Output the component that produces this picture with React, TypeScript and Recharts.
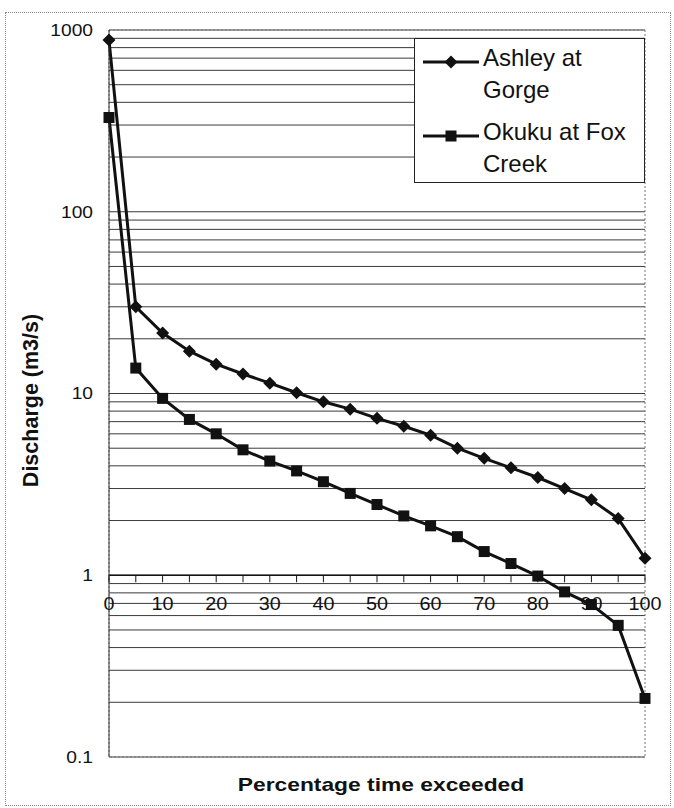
import React from 'react';
import {
  ComposedChart,
  Line,
  Scatter,
  XAxis,
  YAxis,
  CartesianGrid,
  Legend,
  ReferenceLine,
  ReferenceArea,
} from 'recharts';

// Flow duration data: percentage of time a discharge is exceeded
const percentExceeded = [0, 5, 10, 15, 20, 25, 30, 35, 40, 45, 50, 55, 60, 65, 70, 75, 80, 85, 90, 95, 100];
const ashleyAtGorge = [880, 30, 21.5, 17.1, 14.5, 12.8, 11.4, 10.1, 9.0, 8.2, 7.3, 6.6, 5.9, 5.0, 4.4, 3.9, 3.45, 3.0, 2.6, 2.05, 1.24];
const okukuAtFoxCreek = [330, 13.8, 9.4, 7.2, 6.0, 4.9, 4.25, 3.75, 3.27, 2.82, 2.45, 2.12, 1.87, 1.63, 1.35, 1.16, 0.99, 0.81, 0.69, 0.53, 0.21];

const seriesNames = { ashley: 'Ashley at Gorge', okuku: 'Okuku at Fox Creek' };

// Log gridlines (1..9 per decade) and the decades that carry labels
const gridValues = [
  0.1, 0.2, 0.3, 0.4, 0.5, 0.6, 0.7, 0.8, 0.9,
  1, 2, 3, 4, 5, 6, 7, 8, 9,
  10, 20, 30, 40, 50, 60, 70, 80, 90,
  100, 200, 300, 400, 500, 600, 700, 800, 900,
  1000,
];
const decadeLabels = [0.1, 1, 10, 100, 1000];

// Category axis crosses the value axis at a discharge of 1
const axisCrossing = 1;
const xLabelValues = [0, 10, 20, 30, 40, 50, 60, 70, 80, 90, 100];
const xTickMarkValues = [0, 5, 10, 15, 20, 25, 30, 35, 40, 45, 50, 55, 60, 65, 70, 75, 80, 85, 90, 95, 100];

const rows = percentExceeded.map((p, i) => ({
  pct: p,
  ashley: ashleyAtGorge[i],
  okuku: okukuAtFoxCreek[i],
}));
const labelRows = xLabelValues.map((v) => ({ pct: v, at: axisCrossing }));
const markRows = xTickMarkValues.map((v) => ({ pct: v, at: axisCrossing }));

const FONT = '"Liberation Sans", Arial, Helvetica, sans-serif';
const INK = '#111';

const Diamond = ({ cx, cy, size = 6.5 }: { cx: number; cy: number; size?: number }) => (
  <path d={`M${cx},${cy - size} L${cx + size},${cy} L${cx},${cy + size} L${cx - size},${cy} Z`} fill={INK} stroke="none" />
);

const Square = ({ cx, cy, size = 5.5 }: { cx: number; cy: number; size?: number }) => (
  <rect x={cx - size} y={cy - size} width={size * 2} height={size * 2} fill={INK} stroke="none" />
);

const diamondDot = (props: any) => {
  const { cx, cy, index } = props;
  if (cx == null || cy == null) return <g key={`d-${index}`} />;
  return <Diamond key={`d-${index}`} cx={cx} cy={cy} />;
};

const squareDot = (props: any) => {
  const { cx, cy, index } = props;
  if (cx == null || cy == null) return <g key={`s-${index}`} />;
  return <Square key={`s-${index}`} cx={cx} cy={cy} />;
};

const YTick = (props: any) => {
  const { x, y, payload } = props;
  if (!decadeLabels.includes(payload.value)) return <g />;
  return (
    <g transform={`translate(${x},${y}) scale(1.2,1)`}>
      <text textAnchor="end" dy="0.36em" fontSize={16} fontFamily={FONT} fill={INK}>
        {payload.value}
      </text>
    </g>
  );
};

const tickMarkShape = (props: any) => {
  const { cx, cy } = props;
  return <line x1={cx} x2={cx} y1={cy} y2={cy + 7} stroke={INK} strokeWidth={1} />;
};

const tickLabelShape = (props: any) => {
  const { cx, cy, payload } = props;
  return (
    <g transform={`translate(${cx},${cy + 28}) scale(1.1,1)`}>
      <text textAnchor="middle" dy="0.36em" fontSize={18} fontFamily={FONT} fill={INK}>
        {payload.pct}
      </text>
    </g>
  );
};

const yTitle = (props: any) => {
  const { viewBox } = props;
  const cx = viewBox.x + 21;
  const cy = viewBox.y + viewBox.height / 2 + 7;
  return (
    <text
      x={cx}
      y={cy}
      transform={`rotate(-90, ${cx}, ${cy})`}
      textAnchor="middle"
      dy="0.36em"
      fontSize={21.5}
      fontWeight="bold"
      fontFamily={FONT}
      fill={INK}
    >
      Discharge (m3/s)
    </text>
  );
};

const LegendIcon = ({ kind }: { kind: string }) => (
  <svg width={64} height={32} style={{ display: 'block', flex: '0 0 auto' }}>
    <line x1={8} x2={64} y1={20} y2={20} stroke={INK} strokeWidth={3} />
    {kind === 'ashley' ? <Diamond cx={36} cy={20} /> : <Square cx={36} cy={20} />}
  </svg>
);

const LegendBox = (props: any) => {
  const items = (props.payload || []).filter((p: any) => p.dataKey === 'ashley' || p.dataKey === 'okuku');
  return (
    <div
      style={{
        width: 231,
        height: 145,
        boxSizing: 'border-box',
        background: '#fff',
        border: '1px solid #222',
        paddingTop: 3,
        fontFamily: FONT,
        color: INK,
      }}
    >
      {items.map((p: any, i: number) => (
        <div key={p.dataKey} style={{ display: 'flex', alignItems: 'flex-start', marginTop: i === 0 ? 0 : 10 }}>
          <LegendIcon kind={p.dataKey} />
          <div style={{ width: 158, fontSize: 24, lineHeight: '32px', paddingLeft: 4 }}>{p.value}</div>
        </div>
      ))}
    </div>
  );
};

export default function App() {
  return (
    <div style={{ position: 'absolute', left: 0, top: 0, width: 674, height: 808, background: '#fff' }}>
      <div
        style={{
          position: 'absolute',
          left: 5,
          top: 12,
          width: 666,
          height: 794,
          border: '1px dotted #8a8a8a',
          boxSizing: 'border-box',
        }}
      />
      <ComposedChart
        width={674}
        height={808}
        data={rows}
        margin={{ top: 30, right: 29, bottom: 51, left: 9 }}
        style={{ position: 'absolute', left: 0, top: 0 }}
      >
        <CartesianGrid horizontal vertical={false} stroke="#3a3a3a" strokeWidth={1} />
        <XAxis dataKey="pct" type="number" domain={[0, 100]} hide />
        <YAxis
          type="number"
          scale="log"
          domain={[0.1, 1000]}
          ticks={gridValues}
          interval={0}
          width={100}
          tickLine={false}
          tickSize={6}
          tickMargin={10}
          axisLine={{ stroke: '#333', strokeWidth: 1 }}
          tick={YTick}
          label={{ content: yTitle }}
        />
        <ReferenceArea
          x1={0}
          x2={100}
          y1={0.1}
          y2={1000}
          fill="none"
          fillOpacity={0}
          stroke="#777"
          strokeDasharray="2 2"
          ifOverflow="visible"
        />
        <ReferenceLine y={axisCrossing} stroke={INK} strokeWidth={1.3} />
        <Scatter data={markRows} dataKey="at" shape={tickMarkShape} isAnimationActive={false} legendType="none" />
        <Scatter data={labelRows} dataKey="at" shape={tickLabelShape} isAnimationActive={false} legendType="none" />
        <Line
          type="linear"
          dataKey="ashley"
          name={seriesNames.ashley}
          stroke={INK}
          strokeWidth={3}
          dot={diamondDot}
          activeDot={false}
          isAnimationActive={false}
        />
        <Line
          type="linear"
          dataKey="okuku"
          name={seriesNames.okuku}
          stroke={INK}
          strokeWidth={3}
          dot={squareDot}
          activeDot={false}
          isAnimationActive={false}
        />
        <Legend
          layout="vertical"
          align="center"
          verticalAlign="middle"
          content={LegendBox}
          wrapperStyle={{ top: 38, left: 414, width: 231, height: 145 }}
        />
      </ComposedChart>
      <div
        style={{
          position: 'absolute',
          left: 381,
          top: 785,
          transform: 'translate(-50%, -50%) scaleX(1.2)',
          fontFamily: FONT,
          fontWeight: 'bold',
          fontSize: 19,
          lineHeight: '22px',
          whiteSpace: 'nowrap',
          color: INK,
        }}
      >
        Percentage time exceeded
      </div>
    </div>
  );
}
